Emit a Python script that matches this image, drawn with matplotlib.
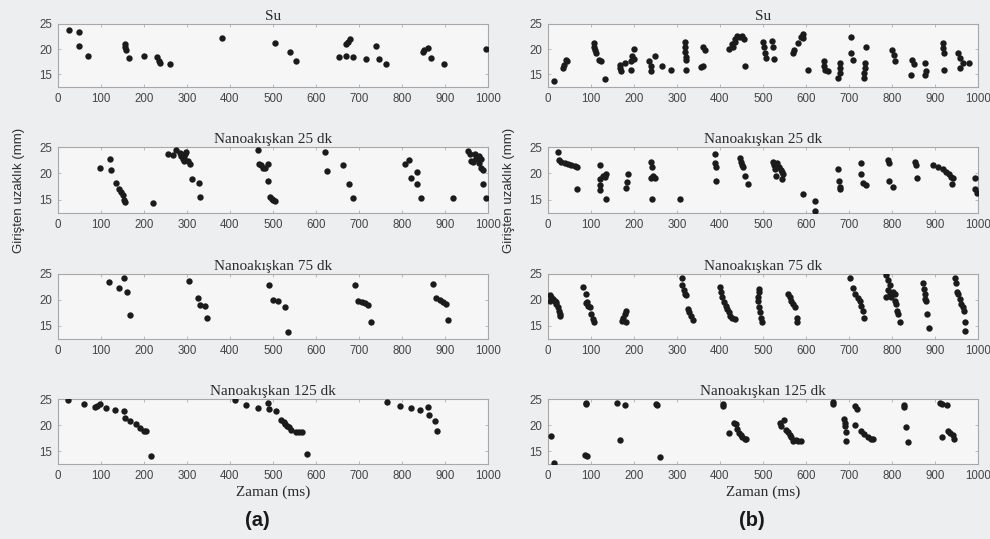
import matplotlib
matplotlib.use("Agg")
import matplotlib.pyplot as plt

# Values (time in ms, distance from inlet in mm)

# (a) Su
su_a_x = [26, 49, 49, 70, 155, 156, 157, 165, 200, 231, 235, 237, 261, 382, 505, 539, 553,
          653, 669, 670, 674, 680, 686, 717, 739, 746, 763, 849, 851, 860, 867, 898, 995]
su_a_y = [23.8, 23.4, 20.7, 18.6, 21.0, 20.4, 19.9, 18.2, 18.6, 18.4, 17.7, 17.3, 17.1, 22.2, 21.2, 19.5, 17.6,
          18.4, 18.7, 21.1, 21.5, 22.1, 18.4, 18.1, 20.7, 18.1, 17.0, 19.5, 19.9, 20.2, 18.2, 17.0, 20.1]

# (b) Su
su_b_x = [15, 36, 38, 42, 45,
          108, 108, 110, 111, 119, 124, 132,
          167, 168, 170, 178, 194, 196, 199, 194, 201,
          236, 240, 240, 248, 264, 287,
          318, 318, 318, 320, 322, 322, 360, 364, 360, 355,
          420, 430, 436, 440, 446, 452, 456, 434, 428, 457,
          500, 502, 504, 507, 522, 523, 525,
          570, 573, 581, 589, 592, 594, 604,
          643, 643, 645, 650, 678, 678, 680, 675,
          705, 705, 709, 740, 738, 737, 735, 735,
          800, 804, 808, 847, 851, 845, 876, 876, 880,
          918, 918, 920, 922, 953, 957, 957, 965, 980]
su_b_y = [13.6, 16.2, 16.9, 17.9, 17.6,
          21.2, 20.5, 19.9, 19.2, 17.9, 17.6, 14.1,
          16.9, 16.2, 15.6, 17.2, 17.6, 18.6, 18.0, 15.9, 20.0,
          17.6, 16.6, 15.6, 18.6, 16.6, 15.8,
          21.5, 20.5, 19.5, 18.5, 17.9, 15.9, 20.5, 19.9, 16.6, 16.4,
          20.0, 20.5, 22.0, 22.7, 22.4, 22.7, 22.0, 21.4, 21.0, 16.7,
          21.4, 20.5, 19.2, 18.2, 21.7, 20.5, 18.0,
          19.2, 19.9, 21.2, 22.5, 23.0, 22.2, 15.9,
          17.6, 16.6, 15.9, 15.6, 17.2, 16.2, 15.2, 14.2,
          19.2, 22.4, 17.9, 20.5, 17.2, 16.2, 15.2, 14.3,
          19.9, 18.9, 17.6, 17.9, 17.0, 14.9, 17.2, 14.9, 15.6,
          21.2, 20.2, 19.2, 15.9, 19.2, 18.2, 16.2, 17.2, 17.2]

# (a) Nanoakışkan 25 dk
n25_a_x = [97, 120, 124, 134, 143, 147, 150, 153, 155, 221,
           256, 267, 275, 283, 287, 290, 292, 296, 298, 294,
           302, 308, 312, 328, 331,
           465, 468, 471, 476, 481, 489, 489, 494, 498, 501, 505,
           620, 626, 663, 677, 686,
           808, 816, 822, 835, 835, 845, 918,
           953, 957, 961, 965, 969, 973, 977, 980, 984, 980,
           983, 988, 988, 996]
n25_a_y = [21.1, 22.8, 20.6, 18.1, 17.0, 16.4, 15.9, 15.0, 14.5, 14.3,
           23.7, 23.4, 24.4, 23.8, 23.3, 22.8, 22.4, 23.7, 24.1, 23.0,
           22.3, 21.8, 18.9, 18.1, 15.6,
           24.4, 21.8, 21.5, 21.1, 21.0, 21.8, 18.6, 15.5, 15.2, 15.0, 14.8,
           24.1, 20.4, 21.6, 18.0, 15.3,
           21.8, 22.6, 19.2, 20.3, 18.0, 15.3, 15.4,
           24.2, 23.6, 22.4, 22.1, 23.6, 23.0, 22.7, 23.3, 22.7, 21.9,
           21.0, 20.6, 18.0, 15.3]

# (b) Nanoakışkan 25 dk
n25_b_x = [23, 26, 31, 39, 46, 54, 62, 68, 67,
           120, 120, 120, 122, 128, 132, 136, 134,
           182, 183, 186,
           240, 243, 244, 240, 248, 243, 308,
           388, 388, 390, 390,
           446, 448, 450, 453, 457, 465,
           523, 525, 527, 530, 533, 537, 541, 544, 547, 545,
           593, 620, 620,
           674, 676, 678, 680,
           728, 728, 732, 740,
           791, 793, 793, 802,
           853, 855, 857,
           895, 907, 918, 926, 932, 937, 941, 940,
           992, 992, 998]
n25_b_y = [24.1, 22.6, 22.2, 21.9, 21.7, 21.6, 21.4, 21.2, 17.1,
           21.6, 17.8, 16.9, 18.9, 19.6, 19.4, 19.8, 15.2,
           17.2, 18.3, 19.9,
           22.2, 21.3, 19.5, 19.1, 19.1, 15.2, 15.2,
           23.6, 21.9, 21.3, 18.5,
           22.9, 22.2, 21.6, 21.2, 19.5, 17.9,
           22.2, 21.6, 20.9, 19.5, 21.9, 21.3, 20.7, 20.2, 19.9, 18.9,
           16.1, 14.7, 12.8,
           20.9, 18.6, 17.5, 17.0,
           21.9, 19.9, 18.2, 17.8,
           22.6, 21.9, 18.5, 17.5,
           22.2, 21.6, 19.2,
           21.6, 21.3, 20.9, 20.2, 19.9, 19.3, 19.2, 17.9,
           19.1, 17.1, 16.2]

# (a) Nanoakışkan 75 dk
n75_a_x = [119, 142, 153, 161, 168, 305, 326, 330, 341, 347,
           491, 499, 512, 527, 535, 690, 698, 706, 713, 721, 729,
           871, 880, 888, 896, 903, 907]
n75_a_y = [23.4, 22.4, 24.2, 21.6, 17.2, 23.6, 20.4, 19.0, 18.9, 16.5,
           22.9, 20.0, 19.8, 18.7, 13.9, 22.9, 19.8, 19.7, 19.4, 19.0, 15.8,
           23.0, 20.3, 20.0, 19.7, 19.3, 16.1]

# (b) Nanoakışkan 75 dk
n75_b_x = [4, 8, 12, 16, 19, 23, 26, 27, 5, 19, 29,
           81, 89, 91, 93, 97, 101, 105, 106, 88,
           171, 174, 178, 182, 182,
           312, 312, 316, 318, 322, 326, 329, 333, 337,
           399, 403, 405, 409, 413, 416, 421, 424, 429, 434,
           491, 491, 488, 488, 491, 492, 496, 498,
           558, 562, 566, 570, 574, 578, 579,
           702, 709, 713, 721, 725, 729, 733, 736,
           787, 791, 795, 791, 795, 798, 802, 806, 810, 812, 814, 818, 787, 806,
           872, 874, 876, 876, 880, 881, 886,
           946, 948, 950, 953, 957, 961, 965, 967, 969, 969]
n75_b_y = [20.9, 20.6, 20.2, 19.9, 19.2, 18.6, 17.9, 17.3, 19.9, 19.6, 17.0,
           22.5, 21.2, 19.6, 18.9, 18.6, 17.3, 16.3, 15.8, 19.4,
           16.0, 16.5, 17.3, 17.9, 15.7,
           24.3, 22.8, 21.9, 21.2, 20.9, 18.3, 17.6, 17.0, 16.1,
           22.5, 21.5, 20.6, 19.6, 18.9, 18.3, 17.6, 17.0, 16.5, 16.3,
           22.2, 21.5, 20.6, 19.9, 18.6, 17.6, 16.6, 15.7,
           21.2, 20.6, 19.9, 19.2, 18.6, 16.6, 15.7,
           24.3, 22.4, 21.2, 20.4, 19.9, 18.9, 17.9, 16.6,
           24.8, 23.8, 22.8, 21.9, 21.2, 20.6, 21.5, 19.9, 19.2, 17.9, 17.4, 15.7, 20.6, 21.2,
           23.2, 22.2, 21.2, 20.2, 19.9, 17.3, 14.7,
           24.2, 23.2, 21.5, 21.2, 20.2, 19.2, 18.6, 17.9, 15.7, 14.0]

# (a) Nanoakışkan 125 dk
n125_a_x = [23, 60, 85, 91, 97, 111, 132, 153, 155, 168, 181, 191, 201, 205, 217,
            411, 438, 465, 488, 491, 508, 519, 525, 529, 533, 538, 543, 553, 560, 568, 579,
            764, 795, 822, 843, 860, 862, 876, 881]
n125_a_y = [24.9, 24.1, 23.4, 23.7, 24.0, 23.2, 22.9, 22.7, 21.3, 20.7, 20.1, 19.4, 18.8, 18.8, 14.1,
            24.8, 23.9, 23.3, 24.3, 23.0, 22.6, 20.9, 20.6, 20.1, 19.9, 19.6, 19.0, 18.7, 18.7, 18.7, 14.5,
            24.4, 23.7, 23.2, 22.8, 23.5, 21.9, 20.8, 18.8]

# (b) Nanoakışkan 125 dk
n125_b_x = [8, 15, 89, 89, 85, 91, 161, 167, 178, 252, 254, 261,
            407, 407, 422, 432, 437, 440, 445, 448, 452, 458, 461,
            539, 543, 548, 553, 558, 562, 566, 570, 576, 581, 589,
            663, 663, 688, 690, 690, 692, 692, 715, 719, 713,
            729, 736, 744, 750, 756,
            829, 829, 833, 837, 912, 917, 928, 916,
            930, 935, 942, 945]
n125_b_y = [17.9, 12.7, 24.3, 24.0, 14.3, 14.1, 24.2, 17.2, 23.9, 24.1, 23.9, 13.9,
            24.1, 23.7, 18.5, 20.4, 20.1, 19.2, 18.5, 18.0, 17.6, 17.3, 17.4,
            20.4, 19.8, 20.9, 19.1, 18.6, 18.0, 17.7, 17.0, 17.1, 17.0, 17.0,
            24.5, 24.0, 21.2, 20.4, 19.8, 18.7, 17.0, 23.6, 23.0, 20.0,
            18.9, 18.3, 17.6, 17.3, 17.4,
            23.9, 23.5, 19.6, 16.7, 24.2, 24.1, 23.8, 17.7,
            18.8, 18.5, 18.0, 17.4]

titles = ["Su", "Nanoakışkan 25 dk", "Nanoakışkan 75 dk", "Nanoakışkan 125 dk"]
panels_a = [(su_a_x, su_a_y), (n25_a_x, n25_a_y), (n75_a_x, n75_a_y), (n125_a_x, n125_a_y)]
panels_b = [(su_b_x, su_b_y), (n25_b_x, n25_b_y), (n75_b_x, n75_b_y), (n125_b_x, n125_b_y)]
x_ticks = list(range(0, 1001, 100))
y_ticks = [15, 20, 25]

W, H = 990, 539
fig = plt.figure(figsize=(W / 100, H / 100), dpi=100, facecolor="#eceeef")

serif = "Liberation Serif"
sans = "Liberation Sans"

# axes boxes in pixels: (left, right) per column, (top, bottom) per row
cols = [(58, 488), (548, 978)]
rows = [(24, 87), (147, 213), (274, 339), (399, 464)]

for ci, panels in enumerate([panels_a, panels_b]):
    x0, x1 = cols[ci]
    for ri, (xs, ys) in enumerate(panels):
        top, bot = rows[ri]
        ax = fig.add_axes([x0 / W, 1 - bot / H, (x1 - x0) / W, (bot - top) / H])
        ax.set_facecolor("#f6f6f6")
        ax.scatter(xs, ys, s=21, color="#1b1b1b", linewidths=0, zorder=3)
        ax.set_xlim(0, 1000)
        ax.set_ylim(12.5, 25)
        ax.set_xticks(x_ticks)
        ax.set_yticks(y_ticks)
        ax.tick_params(direction="in", top=True, right=True, length=2.5, width=0.6,
                       color="#b0b0b0", labelsize=8.3, labelcolor="#444444", pad=4)
        for lab in ax.get_xticklabels() + ax.get_yticklabels():
            lab.set_family(sans)
        for sp in ax.spines.values():
            sp.set_color("#a8a8a8")
            sp.set_linewidth(0.8)
        ax.set_title(titles[ri], fontsize=11, family=serif, color="#2a2a2a", pad=3)
        if ri == 3:
            ax.set_xlabel("Zaman (ms)", fontsize=11, family=serif, color="#2a2a2a", labelpad=3)

    # y label for each column
    fig.text((x0 - 39) / W, 1 - 190 / H, "Girişten uzaklık (mm)", rotation=90,
             ha="center", va="center", fontsize=9.5, family=sans, color="#2f2f2f")

fig.text(257 / W, 1 - 521 / H, "(a)", ha="center", va="center", fontsize=14.5,
         fontweight="bold", family=sans, color="#1a1a1a")
fig.text(752 / W, 1 - 521 / H, "(b)", ha="center", va="center", fontsize=14.5,
         fontweight="bold", family=sans, color="#1a1a1a")

fig.savefig("out.png", dpi=100, facecolor=fig.get_facecolor())
